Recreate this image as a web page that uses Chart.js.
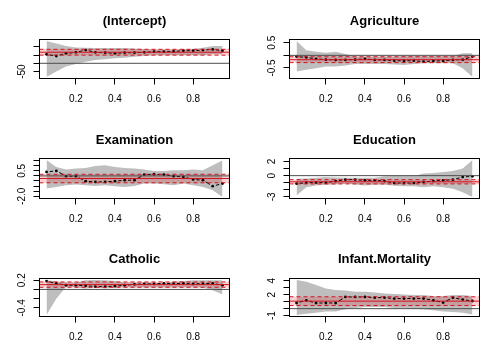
<!DOCTYPE html>
<html><head><meta charset="utf-8">
<script src="https://cdn.jsdelivr.net/npm/chart.js@4.4.1/dist/chart.umd.min.js"></script>
<style>
html,body{margin:0;padding:0;background:#fff;}
#wrap{position:relative;width:500px;height:356px;overflow:hidden;background:#fff;}
#wrap canvas{position:absolute;}
</style></head><body><div id="wrap"></div>
<script>
// ---------- data ----------
const taus = [0.05,0.10,0.15,0.20,0.25,0.30,0.35,0.40,0.45,0.50,0.55,0.60,0.65,0.70,0.75,0.80,0.85,0.90,0.95];
const panelTitles = ["(Intercept)","Agriculture","Examination","Education","Catholic","Infant.Mortality"];

const coefIntercept = [54,44,60,66,80,66,64,60,64,64,66,70,70,72,76,76,80,84,76];
const upperIntercept = [135,120,104,96,94,92,92,92,92,90,86,84,84,84,84,86,94,104,104];
const lowerIntercept = [-83,-50,-20,-4,10,20,24,30,34,40,44,48,48,48,48,48,48,56,56];

const coefAgriculture = [-0.05,-0.08,-0.14,-0.17,-0.18,-0.18,-0.17,-0.14,-0.18,-0.18,-0.21,-0.22,-0.21,-0.25,-0.22,-0.22,-0.18,-0.17,-0.05];
const upperAgriculture = [0.57,0.2,0.14,0.1,0.14,0.05,-0.05,-0.05,-0.05,-0.05,-0.05,-0.03,-0.03,-0.03,-0.03,-0.03,-0.03,0.08,0.08];
const lowerAgriculture = [-0.64,-0.57,-0.51,-0.44,-0.44,-0.4,-0.34,-0.34,-0.34,-0.34,-0.36,-0.38,-0.34,-0.31,-0.31,-0.31,-0.31,-0.51,-0.86];

const coefExamination = [0.39,0.49,-0.03,-0.03,-0.52,-0.59,-0.59,-0.52,-0.42,-0.42,0.13,0.16,0.13,-0.03,-0.1,-0.35,-0.42,-1.01,-0.75];
const upperExamination = [1.56,0.88,0.62,0.72,0.78,0.98,1.05,0.88,0.78,0.72,0.62,0.49,0.49,0.56,0.56,0.62,0.56,1.05,1.52];
const lowerExamination = [-1.24,-1.08,-0.91,-0.85,-0.91,-0.98,-0.91,-1.01,-1.08,-0.98,-0.75,-0.75,-0.82,-0.91,-0.75,-0.91,-1.08,-1.4,-2.07];

const coefEducation = [-1.14,-1.0,-0.97,-1.0,-0.77,-0.57,-0.57,-0.67,-0.67,-0.77,-1.05,-1.05,-1.05,-0.9,-0.77,-0.67,-0.57,-0.19,-0.1];
const upperEducation = [-0.43,-0.4,-0.3,-0.2,-0.25,-0.29,-0.29,-0.29,-0.29,-0.1,-0.05,-0.05,-0.05,0.29,0.38,0.51,0.67,1.0,2.22];
const lowerEducation = [-2.8,-1.63,-1.39,-1.3,-1.25,-1.14,-1.25,-1.39,-1.3,-1.3,-1.43,-1.5,-1.5,-1.63,-1.5,-1.63,-1.86,-2.34,-3.03];

const coefCatholic = [0.18,0.13,0.09,0.09,0.08,0.06,0.06,0.07,0.09,0.11,0.12,0.12,0.13,0.125,0.13,0.12,0.125,0.13,0.09];
const upperCatholic = [0.2,0.17,0.15,0.15,0.2,0.206,0.2,0.18,0.15,0.15,0.15,0.15,0.13,0.17,0.18,0.2,0.2,0.2,0.2];
const lowerCatholic = [-0.556,-0.2,0.06,0.04,0.02,0.04,0.02,0.04,0.04,0.04,0.04,0.04,0.04,0.04,0.04,0.04,0.04,-0.02,-0.11];

const coefInfant = [0.81,1.2,0.81,0.81,0.81,1.68,1.68,1.68,1.58,1.58,1.45,1.45,1.45,1.45,1.2,0.87,1.58,1.3,1.1];
const upperInfant = [4.12,3.86,3.38,2.9,2.66,2.6,2.41,2.41,2.3,2.17,2.1,2.03,1.96,1.96,1.83,1.8,1.96,1.96,1.83];
const lowerInfant = [-0.92,-0.73,-0.58,-0.39,-0.39,-0.1,0.09,0.24,0.24,0.24,0.09,0.09,0.0,-0.1,-0.24,-0.39,-0.49,-0.58,-0.83];

const olsEst = [66.915,-0.172,-0.258,-0.871,0.104,1.077];
const olsLo  = [49.3,-0.288,-0.676,-1.172,0.046,0.449];
const olsHi  = [84.5,-0.056,0.160,-0.570,0.162,1.705];

const xTicks = [0.2,0.4,0.6,0.8];
const xTickLabels = ["0.2","0.4","0.6","0.8"];
const yTicks = [[-50,0,50,100],[-0.5,0,0.5],[-2,-1.5,-1,-0.5,0,0.5,1,1.5],[-3,-2,-1,0,1,2],[-0.4,-0.2,0,0.2],[-1,0,1,2,3,4]];
const yTickLabels = [["-50"],["-0.5","0.5"],["-2.0","0.5"],["-3","0","2"],["-0.4","0.2"],["-1","2","4"]];

const coefs = [coefIntercept,coefAgriculture,coefExamination,coefEducation,coefCatholic,coefInfant];
const uppers = [upperIntercept,upperAgriculture,upperExamination,upperEducation,upperCatholic,upperInfant];
const lowers = [lowerIntercept,lowerAgriculture,lowerExamination,lowerEducation,lowerCatholic,lowerInfant];

// ---------- style / layout ----------
const FONT = "'Liberation Sans', Arial, Helvetica, sans-serif";
const RED = "rgb(210,20,30)";
const PINK = "rgba(235,30,40,0.2)";
const GREY = "#BEBEBE";
const canvasTop = [0,119,238], canvasH = [119,119,118];
const plotTop = [39.5,39.5,40.5], plotBottom = [78.5,79.5,78.5];
const plotLeft = 39.5, plotRight = 229.5;

const wrap = document.getElementById('wrap');

const boxPlugin = {
  id:'boxAndYLabels',
  afterDraw(chart){
    const {ctx, chartArea:a} = chart;
    const i = chart.options.plugins.boxAndYLabels.panel;
    ctx.save();
    ctx.strokeStyle = '#000'; ctx.lineWidth = 1; ctx.setLineDash([]);
    ctx.strokeRect(a.left, a.top, a.right-a.left, a.bottom-a.top);
    ctx.fillStyle = '#000';
    ctx.font = "10px " + FONT;
    ctx.textAlign = 'center'; ctx.textBaseline = 'middle';
    const ys = chart.scales.y;
    yTickLabels[i].forEach(t => {
      const py = ys.getPixelForValue(parseFloat(t));
      ctx.save();
      ctx.translate(a.left - 17.5, py);
      ctx.rotate(-Math.PI/2);
      ctx.fillText(t, 0, 0);
      ctx.restore();
    });
    ctx.restore();
  }
};

function makePanel(i){
  const r = Math.floor(i/2), c = i%2;
  const cv = document.createElement('canvas');
  cv.width = 250; cv.height = canvasH[r];
  cv.style.left = (250*c)+'px'; cv.style.top = canvasTop[r]+'px';
  cv.style.width = '250px'; cv.style.height = canvasH[r]+'px';
  wrap.appendChild(cv);

  const up = uppers[i], lo = lowers[i], cf = coefs[i];
  const ylo = Math.min(...lo), yhi = Math.max(...up);
  const ypad = 0.04*(yhi-ylo);
  const xpad = 0.04*(taus[taus.length-1]-taus[0]);
  const xmin = taus[0]-xpad, xmax = taus[taus.length-1]+xpad;
  const hline = v => [{x:xmin,y:v},{x:xmax,y:v}];
  const pts = arr => taus.map((t,k)=>({x:t,y:arr[k]}));
  const none = 'rgba(0,0,0,0)';
  const titlePadTop = 13.2;
  const lineH = 13*1.2;
  const titlePadBottom = plotTop[r] - titlePadTop - lineH;

  new Chart(cv, {
    type:'line',
    data:{datasets:[
      {data:hline(0), borderColor:'#4D4D4D', borderWidth:1, pointRadius:0, fill:false},
      {data:hline(olsEst[i]), borderColor:RED, borderWidth:1, pointRadius:0, fill:false},
      {data:hline(olsHi[i]), borderColor:RED, borderWidth:1, borderDash:[4,3], pointRadius:0, fill:false},
      {data:hline(olsLo[i]), borderColor:RED, borderWidth:1, borderDash:[4,3], pointRadius:0, fill:false},
      {data:pts(cf), borderColor:'#000', borderWidth:1, pointRadius:1.4, pointBorderWidth:0,
        pointBackgroundColor:'#000', fill:false,
        segment:{
          borderDash: ctx => {
            const dx = ctx.p1.x-ctx.p0.x, dy = ctx.p1.y-ctx.p0.y;
            const L = Math.sqrt(dx*dx+dy*dy), g = 3.3;
            return L > 2*g ? [0, g, L-2*g, 1000] : [0, 1000];
          },
          borderDashOffset: ctx => ctx.p0DataIndex*1e-4
        }},
      {data:hline(olsHi[i]), borderColor:none, borderWidth:1, pointRadius:0, fill:'+1', backgroundColor:PINK},
      {data:hline(olsLo[i]), borderColor:none, borderWidth:1, pointRadius:0, fill:false},
      {data:pts(up), borderColor:none, borderWidth:1, pointRadius:0, fill:'+1', backgroundColor:GREY},
      {data:pts(lo), borderColor:none, borderWidth:1, pointRadius:0, fill:false}
    ]},
    options:{
      responsive:false, animation:false, devicePixelRatio:1,
      events:[],
      layout:{padding:{left:0,right:250-plotRight,top:0,bottom:0}},
      plugins:{
        legend:{display:false}, tooltip:{enabled:false},
        title:{display:true, text:panelTitles[i], fullSize:false, color:'#000',
          font:{family:FONT, size:13, weight:'bold', lineHeight:1.2},
          padding:{top:titlePadTop, bottom:titlePadBottom}},
        boxAndYLabels:{panel:i}
      },
      scales:{
        x:{type:'linear', min:xmin, max:xmax,
          afterBuildTicks: s => { s.ticks = xTicks.map(v=>({value:v})); },
          afterFit: s => { s.height = canvasH[r] - plotBottom[r]; },
          grid:{drawOnChartArea:false, drawTicks:true, tickLength:6, color:'#000', lineWidth:1},
          border:{display:false},
          ticks:{autoSkip:false, maxRotation:0, minRotation:0, padding:9, color:'#000',
            font:{family:FONT, size:10}, callback:(v,idx)=>xTickLabels[idx]}
        },
        y:{type:'linear', min:ylo-ypad, max:yhi+ypad,
          afterBuildTicks: s => { s.ticks = yTicks[i].map(v=>({value:v})); },
          afterFit: s => { s.width = plotLeft; },
          grid:{drawOnChartArea:false, drawTicks:true, tickLength:6, color:'#000', lineWidth:1},
          border:{display:false},
          ticks:{display:false}
        }
      }
    },
    plugins:[boxPlugin]
  });
}
for (let i=0;i<6;i++) makePanel(i);
</script>
</body></html>
